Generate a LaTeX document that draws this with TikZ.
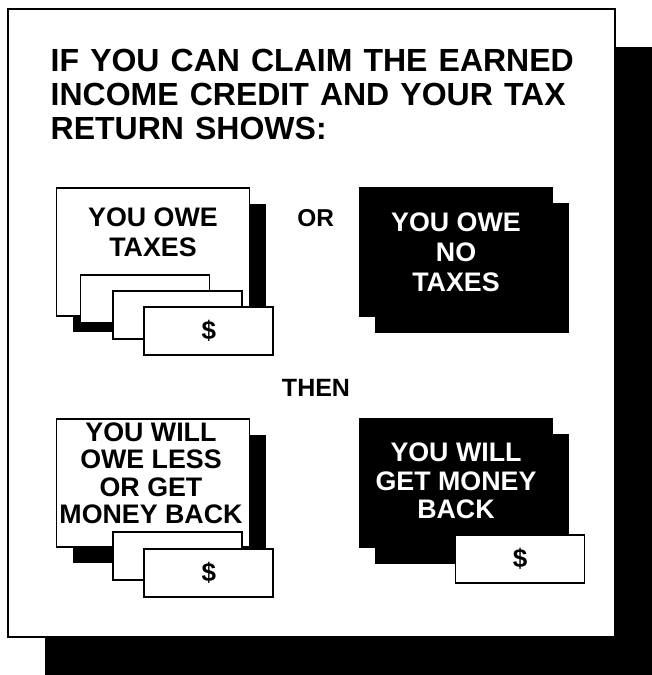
\documentclass[tikz,border=0pt]{standalone}
\usepackage{fontspec}
\setmainfont{Liberation Sans}
\newfontfamily\titlefont[WordSpace=1.25]{Liberation Sans}
\usetikzlibrary{shadows}
\begin{document}
\begin{tikzpicture}[x=1pt,y=-1pt,
  blackshadow/.style={drop shadow={shadow xshift=#1, shadow yshift=-#1, fill=black, opacity=1}},
  frame/.style={draw=black, line width=2pt, fill=white, inner sep=0pt,
    minimum width=607pt, minimum height=628pt,
    drop shadow={shadow xshift=37pt, shadow yshift=-38pt, fill=black, opacity=1}},
  wbox/.style={draw=black, line width=1.8pt, fill=white, inner sep=0pt,
    minimum width=193pt, minimum height=128pt, blackshadow=16pt},
  bbox/.style={fill=black, inner sep=0pt,
    minimum width=194pt, minimum height=130pt, blackshadow=16pt},
  bill/.style={draw=black, line width=1.8pt, fill=white, inner sep=0pt,
    minimum width=129pt, minimum height=48pt,
    font=\fontsize{26}{29}\selectfont\bfseries},
  boxtext/.style={anchor=north, inner sep=0pt, align=center,
    font=\fontsize{26.8}{#1}\selectfont\bfseries},
  title/.style={anchor=north west, inner sep=0pt, align=left,
    font=\titlefont\fontsize{32}{34}\selectfont\bfseries},
  word/.style={anchor=base, inner sep=0pt, font=\fontsize{25}{28}\selectfont\bfseries}
]
\useasboundingbox (0,0) rectangle (652,675);

% outer frame with its shadow
\node[frame] (frm) at (311.5,323) {};

% title
\node[title] (ttl) at (50.5,48.5) {IF YOU CAN CLAIM THE EARNED\\INCOME CREDIT AND YOUR TAX\\RETURN SHOWS:};

% top left: you owe taxes
\node[wbox] (owe) at (153,252) {};
\node[boxtext=30] (owet) at (153,207.5) {YOU OWE\\TAXES};
\node[bill] (b1) at (145,299) {};
\node[bill] (b2) at (177.2,315.3) {};
\node[bill] (b3) at (208.8,331.2) {\$};

% OR
\node[word, font=\fontsize{24.4}{28}\selectfont\bfseries] (or) at (315.7,226.7) {OR};

% top right: you owe no taxes
\node[bbox] (none) at (456,252) {};
\node[boxtext=30, text=white] (nonet) at (456,212.5) {YOU OWE\\NO\\TAXES};

% THEN
\node[word] (then) at (316,396) {THEN};

% bottom left: owe less or get money back
\node[wbox] (less) at (153,483) {};
\node[boxtext=27.5] (lesst) at (151,422.5) {YOU WILL\\OWE LESS\\OR GET\\MONEY BACK};
\node[bill] (b4) at (177.2,556.3) {};
\node[bill] (b5) at (208.8,573.2) {\$};

% bottom right: get money back
\node[bbox] (back) at (456,482.5) {};
\node[boxtext=28.7, text=white] (backt) at (456,442.5) {YOU WILL\\GET MONEY\\BACK};
\node[bill] (b6) at (520,559) {\$};
\end{tikzpicture}
\end{document}
